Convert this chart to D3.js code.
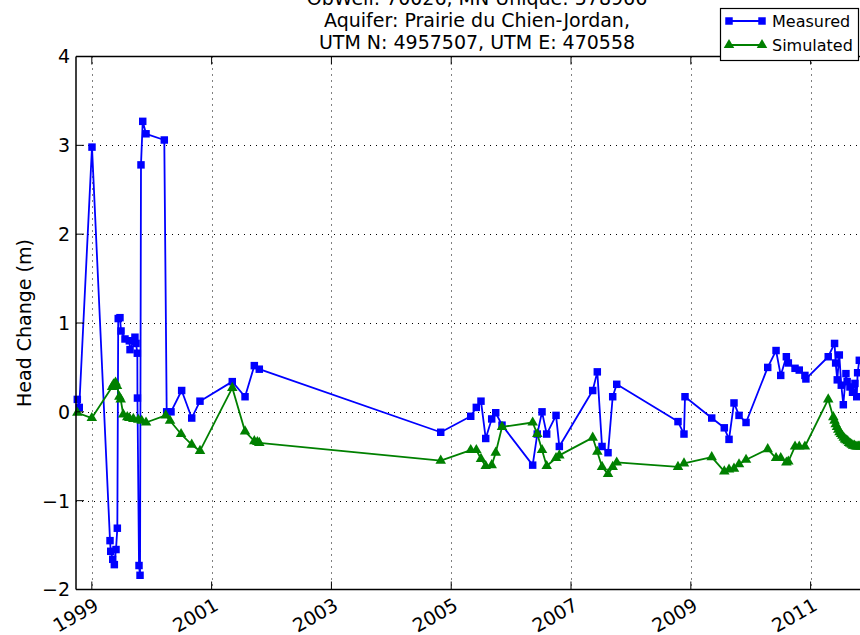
<!DOCTYPE html>
<html>
<head>
<meta charset="utf-8">
<script src="https://cdn.jsdelivr.net/npm/d3@7"></script>
<style>
  html, body { margin: 0; padding: 0; background: #fff; }
  svg { display: block; font-family: "DejaVu Sans", sans-serif; }
</style>
</head>
<body>
<svg id="chart" width="860" height="635"></svg>
<script>
// ---- Data (decimal years, head change in m) ----
const titleLines = ["ObWell: 70026, MN Unique: 578966", "Aquifer: Prairie du Chien-Jordan,", "UTM N: 4957507, UTM E: 470558"];
const yLabel = "Head Change (m)";
const seriesNames = ["Measured", "Simulated"];
const xTickYears = [1999, 2001, 2003, 2005, 2007, 2009, 2011];
const yTicks = [-2, -1, 0, 1, 2, 3, 4];

const measuredT = [1998.758, 1998.79, 1999.003, 1999.304, 1999.316, 1999.349, 1999.376, 1999.404, 1999.426,
  1999.441, 1999.47, 1999.488, 1999.554, 1999.626, 1999.638, 1999.72, 1999.738, 1999.76, 1999.762,
  1999.788, 1999.805, 1999.821, 1999.85, 1999.905, 2000.21, 2000.25, 2000.322, 2000.50, 2000.668, 2000.806,
  2001.345, 2001.558, 2001.713, 2001.796, 2004.825, 2005.326, 2005.419, 2005.497, 2005.576, 2005.676,
  2005.743, 2005.848, 2006.36, 2006.437, 2006.516, 2006.594, 2006.75, 2006.805, 2007.362, 2007.439,
  2007.518, 2007.618, 2007.696, 2007.763, 2008.786, 2008.886, 2008.903, 2009.349, 2009.559, 2009.638,
  2009.721, 2009.805, 2009.922, 2010.284, 2010.423, 2010.501, 2010.595, 2010.628, 2010.74, 2010.81,
  2010.905, 2010.921, 2011.294, 2011.40, 2011.418, 2011.445, 2011.479, 2011.512, 2011.546, 2011.59,
  2011.61, 2011.657, 2011.70, 2011.74, 2011.77, 2011.785, 2011.813];
const measuredV = [0.14, 0.05, 2.98, -1.45, -1.57, -1.66, -1.72, -1.55, -1.31,
  1.05, 1.06, 0.91, 0.82, 0.80, 0.70, 0.84, 0.77, 0.66, 0.155,
  -1.73, -1.84, 2.78, 3.27, 3.13, 3.06, 0.0, 0.0, 0.24, -0.07, 0.12,
  0.34, 0.17, 0.52, 0.48, -0.23, -0.05, 0.05, 0.12, -0.30, -0.08,
  -0.01, -0.15, -0.60, -0.25, 0.0, -0.25, -0.04, -0.39, 0.24, 0.45,
  -0.39, -0.46, 0.17, 0.31, -0.11, -0.25, 0.17, -0.07, -0.18, -0.31,
  0.10, -0.04, -0.12, 0.50, 0.69, 0.41, 0.62, 0.55, 0.49, 0.47,
  0.41, 0.37, 0.62, 0.77, 0.55, 0.36, 0.64, 0.30, 0.08, 0.43,
  0.34, 0.28, 0.22, 0.32, 0.17, 0.44, 0.58];

const simulatedT = [1998.758, 1999.0, 1999.338, 1999.363, 1999.396, 1999.421, 1999.459, 1999.482,
  1999.525, 1999.592, 1999.626, 1999.693, 1999.776, 1999.833, 1999.905, 2000.234, 2000.306, 2000.49,
  2000.668, 2000.806, 2001.345, 2001.558, 2001.713, 2001.763, 2001.796, 2004.825, 2005.326, 2005.419,
  2005.497, 2005.576, 2005.676, 2005.743, 2005.848, 2006.36, 2006.437, 2006.516, 2006.594, 2006.75,
  2006.805, 2007.362, 2007.439, 2007.518, 2007.618, 2007.696, 2007.763, 2008.786, 2008.886, 2009.349,
  2009.559, 2009.638, 2009.721, 2009.805, 2009.922, 2010.284, 2010.423, 2010.501, 2010.595, 2010.628,
  2010.74, 2010.81, 2010.905, 2011.294, 2011.379, 2011.399, 2011.419, 2011.441, 2011.462, 2011.482,
  2011.507, 2011.529, 2011.553, 2011.574, 2011.596, 2011.619, 2011.641, 2011.663, 2011.686, 2011.708,
  2011.730, 2011.753, 2011.775, 2011.796, 2011.820, 2011.842];
const simulatedV = [-0.01, -0.07, 0.28, 0.31, 0.33, 0.29, 0.17, 0.14,
  -0.03, -0.06, -0.07, -0.08, -0.09, -0.10, -0.12, -0.04, -0.10, -0.25,
  -0.37, -0.44, 0.27, -0.22, -0.33, -0.34, -0.35, -0.55, -0.43, -0.43,
  -0.53, -0.61, -0.60, -0.46, -0.17, -0.12, -0.25, -0.43, -0.61, -0.52,
  -0.49, -0.29, -0.45, -0.62, -0.70, -0.62, -0.57, -0.62, -0.58, -0.51,
  -0.67, -0.65, -0.64, -0.59, -0.54, -0.42, -0.52, -0.52, -0.57, -0.56,
  -0.39, -0.39, -0.39, 0.14, -0.06, -0.10, -0.14, -0.17, -0.20, -0.23,
  -0.25, -0.27, -0.29, -0.31, -0.32, -0.33, -0.35, -0.36, -0.37, -0.38,
  -0.38, -0.39, -0.39, -0.39, -0.39, -0.39];

// ---- Layout ----
const svg = d3.select("#chart");
const L = 76, R = 878, T = 56.5, B = 589.5;
const x = d3.scaleLinear().domain([1998.736, 2012.125]).range([L, R]);
const y = d3.scaleLinear().domain([-2, 4]).range([B, T]);
const FS = 19;

// grid
const grid = svg.append("g").attr("stroke", "#000").attr("stroke-width", 1).attr("stroke-dasharray", "1,5");
grid.selectAll("line.gx").data(xTickYears).join("line")
  .attr("x1", d => Math.round(x(d)) + 0.5).attr("x2", d => Math.round(x(d)) + 0.5)
  .attr("y1", T).attr("y2", B);
grid.selectAll("line.gy").data(yTicks.slice(1, -1)).join("line")
  .attr("y1", d => Math.round(y(d)) + 0.5).attr("y2", d => Math.round(y(d)) + 0.5)
  .attr("x1", L).attr("x2", R);

// series
const measured = measuredT.map((t, i) => [t, measuredV[i]]);
const simulated = simulatedT.map((t, i) => [t, simulatedV[i]]);
const line = d3.line().x(d => x(d[0])).y(d => y(d[1]));
const sq = d3.symbol().type(d3.symbolSquare).size(56);
const tri = d3.symbol().type(d3.symbolTriangle).size(48);

function drawSeries(data, color, sym) {
  const g = svg.append("g");
  g.append("path").attr("d", line(data)).attr("fill", "none")
    .attr("stroke", color).attr("stroke-width", 1.8).attr("stroke-linejoin", "round");
  g.selectAll("path.m").data(data).join("path").attr("class", "m")
    .attr("transform", d => `translate(${x(d[0])},${y(d[1])})`)
    .attr("d", sym).attr("fill", color);
}
drawSeries(measured, "#0000ff", sq);
drawSeries(simulated, "#008000", tri);

// axes frame
const frame = svg.append("g").attr("stroke", "#000").attr("stroke-width", 1.5).attr("fill", "none");
frame.append("line").attr("x1", L).attr("x2", L).attr("y1", T).attr("y2", B);
frame.append("line").attr("x1", L).attr("x2", R).attr("y1", B).attr("y2", B);
frame.append("line").attr("x1", L).attr("x2", R).attr("y1", T).attr("y2", T);

// ticks (inward, matplotlib classic)
const tk = svg.append("g").attr("stroke", "#000").attr("stroke-width", 1);
tk.selectAll("line.bx").data(xTickYears).join("line")
  .attr("x1", d => x(d)).attr("x2", d => x(d)).attr("y1", B).attr("y2", B - 8);
tk.selectAll("line.tx").data(xTickYears).join("line")
  .attr("x1", d => x(d)).attr("x2", d => x(d)).attr("y1", T).attr("y2", T + 8);
tk.selectAll("line.ly").data(yTicks).join("line")
  .attr("y1", d => y(d)).attr("y2", d => y(d)).attr("x1", L).attr("x2", L + 8);

// tick labels
svg.append("g").selectAll("text").data(yTicks).join("text")
  .attr("x", L - 6).attr("y", d => y(d)).attr("dy", "0.36em")
  .attr("text-anchor", "end").attr("font-size", FS)
  .text(d => d < 0 ? "\u2212" + Math.abs(d) : d);

svg.append("g").selectAll("text").data(xTickYears).join("text")
  .attr("transform", d => `translate(${x(d) + 1},${B + 7}) rotate(-30)`)
  .attr("text-anchor", "end").attr("dy", "0.75em").attr("font-size", FS)
  .text(d => d);

// y label
svg.append("text").attr("transform", `translate(31,${(T + B) / 2}) rotate(-90)`)
  .attr("text-anchor", "middle").attr("font-size", FS).text(yLabel);

// title
svg.append("g").selectAll("text").data(titleLines).join("text")
  .attr("x", (L + R) / 2).attr("y", (d, i) => 5 + i * 22)
  .attr("text-anchor", "middle").attr("font-size", FS).text(d => d);

// legend
const lg = svg.append("g");
lg.append("rect").attr("x", 720.5).attr("y", 8.5).attr("width", 138).attr("height", 52)
  .attr("fill", "#fff").attr("stroke", "#000").attr("stroke-width", 1.2);
const legendItems = [
  { name: seriesNames[0], color: "#0000ff", sym: sq },
  { name: seriesNames[1], color: "#008000", sym: tri }
];
legendItems.forEach((it, i) => {
  const yy = 21 + i * 24;
  lg.append("line").attr("x1", 729).attr("x2", 762).attr("y1", yy).attr("y2", yy)
    .attr("stroke", it.color).attr("stroke-width", 1.8);
  [729, 762].forEach(xx => lg.append("path").attr("d", it.sym)
    .attr("transform", `translate(${xx},${yy})`).attr("fill", it.color));
  lg.append("text").attr("x", 772).attr("y", yy).attr("dy", "0.36em")
    .attr("font-size", 16).text(it.name);
});
</script>
</body>
</html>
